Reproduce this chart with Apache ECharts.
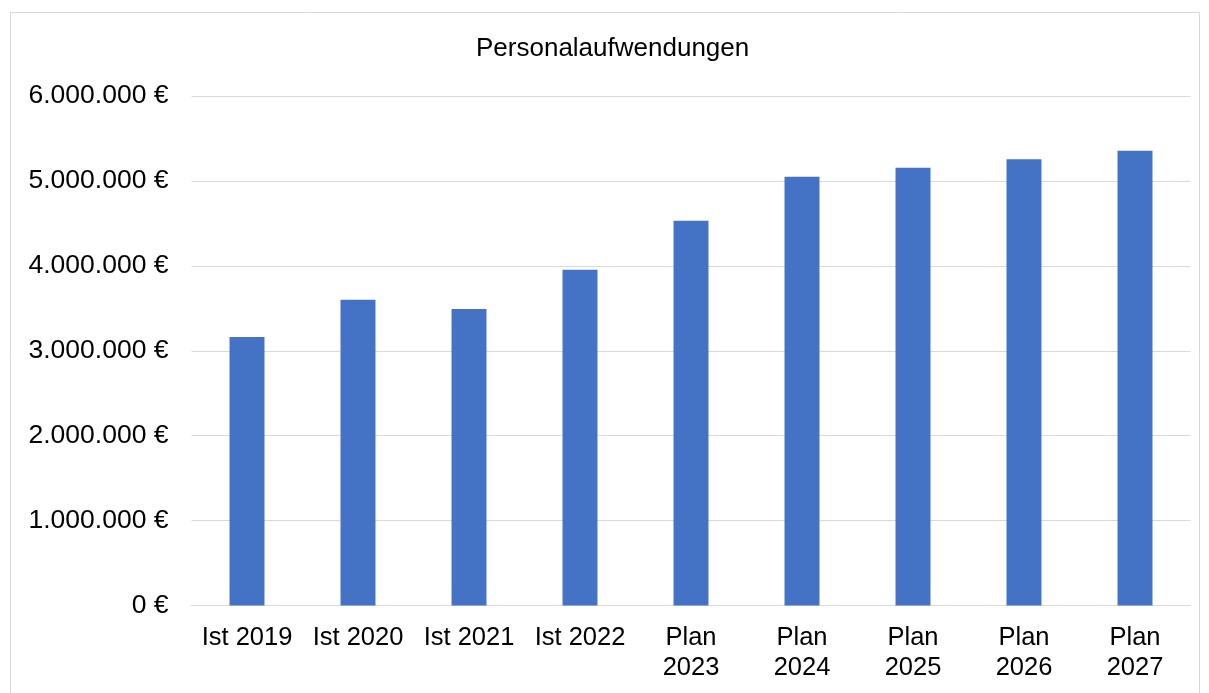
<!DOCTYPE html>
<html>
<head>
<meta charset="utf-8">
<script src="https://cdn.jsdelivr.net/npm/echarts@6/dist/echarts.min.js"></script>
<style>
html,body{margin:0;padding:0;background:#fff;}
#chart{width:1209px;height:693px;}
</style>
</head>
<body>
<div id="chart"></div>
<script>
const titleText = 'Personalaufwendungen';
const categories = ['Ist 2019', 'Ist 2020', 'Ist 2021', 'Ist 2022', 'Plan\n2023', 'Plan\n2024', 'Plan\n2025', 'Plan\n2026', 'Plan\n2027'];
const values = [3163000, 3600000, 3493000, 3953000, 4531000, 5050000, 5156000, 5254000, 5356000];
const yTicks = { min: 0, max: 6000000, interval: 1000000 };

function fmtEuro(v) {
  const s = Math.round(v).toString().replace(/\B(?=(\d{3})+(?!\d))/g, '.');
  return s + ' €';
}

const chart = echarts.init(document.getElementById('chart'), null, { renderer: 'canvas' });
const font = 'Liberation Sans, Arial, sans-serif';
chart.setOption({
  animation: false,
  backgroundColor: '#ffffff',
  textStyle: { fontFamily: font },
  graphic: [{
    type: 'rect',
    silent: true,
    shape: { x: 10.5, y: 12.5, width: 1189, height: 700 },
    style: { fill: 'none', stroke: '#d9d9d9', lineWidth: 1 },
    z: -1
  }],
  title: {
    text: titleText,
    left: 476,
    top: 36,
    padding: 0,
    textStyle: { fontFamily: font, fontSize: 26, fontWeight: 'normal', color: '#000' }
  },
  grid: { left: 191.5, right: 18.5, top: 96, bottom: 87.5 },
  xAxis: {
    type: 'category',
    data: categories,
    axisLine: { show: true, lineStyle: { color: '#d9d9d9', width: 1 } },
    axisTick: { show: false },
    axisLabel: {
      interval: 0,
      margin: 17,
      fontFamily: font,
      fontSize: 25.5,
      lineHeight: 30,
      color: '#000'
    }
  },
  yAxis: {
    type: 'value',
    min: yTicks.min,
    max: yTicks.max,
    interval: yTicks.interval,
    axisLine: { show: false },
    axisTick: { show: false },
    splitLine: { lineStyle: { color: '#d9d9d9', width: 1 } },
    axisLabel: {
      margin: 23,
      fontFamily: font,
      fontSize: 26.5,
      color: '#000',
      formatter: fmtEuro
    }
  },
  series: [{
    type: 'bar',
    data: values,
    barWidth: '31.5%',
    itemStyle: { color: '#4472c4' }
  }]
});
</script>
</body>
</html>
